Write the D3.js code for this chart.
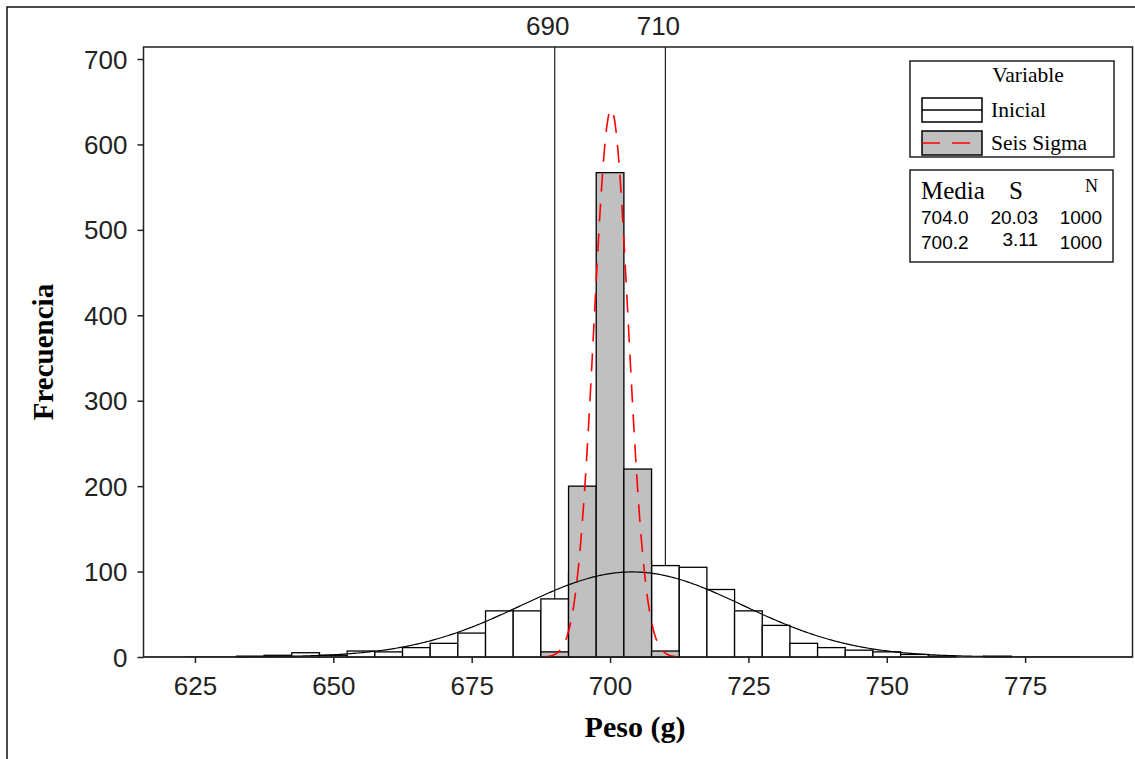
<!DOCTYPE html>
<html>
<head>
<meta charset="utf-8">
<script src="https://cdnjs.cloudflare.com/ajax/libs/d3/7.8.5/d3.min.js"></script>
<style>
  body { margin: 0; background: #fff; }
  svg { display: block; }
  .tick-label { font-family: "Liberation Sans", Arial, sans-serif; font-size: 26px; fill: #222; }
  .serif { font-family: "Liberation Serif", "Times New Roman", serif; fill: #000; }
  .stat { font-family: "Liberation Sans", Arial, sans-serif; font-size: 19px; fill: #000; }
</style>
</head>
<body>
<div id="chart"></div>
<script>
// bin centres (width 5 g)
const binCenters = [635, 640, 645, 650, 655, 660, 665, 670, 675, 680, 685, 690, 695, 700, 705, 710, 715, 720, 725, 730, 735, 740, 745, 750, 755, 760, 765, 770];
const inicialCounts = [1, 2, 5, 2, 7, 6, 11, 16, 28, 54, 54, 68, 98, 108, 112, 107, 105, 79, 54, 37, 16, 11, 8, 6, 3, 1, 0, 1];
const seisCenters = [690, 695, 700, 705, 710];
const seisCounts = [6, 200, 567, 220, 7];
const binWidth = 5;

// summary table
const seriesNames = ['Inicial', 'Seis Sigma'];
const medias = [704.0, 700.2];
const desvios = [20.03, 3.11];
const ns = [1000, 1000];
const mediaLabels = ['704.0', '700.2'];
const sLabels = ['20.03', '3.11'];

const xTicks = [625, 650, 675, 700, 725, 750, 775];
const yTicks = [0, 100, 200, 300, 400, 500, 600, 700];
const refLines = [690, 710];

const W = 1135, H = 759;
const plot = { left: 143.5, right: 1132.5, top: 47, bottom: 657 };

const svg = d3.select('#chart').append('svg')
  .attr('width', W)
  .attr('height', H);

svg.append('rect').attr('width', W).attr('height', H).attr('fill', '#fff');

// outer frame (right / bottom edges fall outside the picture)
svg.append('rect')
  .attr('x', 7).attr('y', 7)
  .attr('width', W + 20).attr('height', H + 20)
  .attr('fill', 'none').attr('stroke', '#111').attr('stroke-width', 1.5);

const x = d3.scaleLinear().domain([615.7, 794.4]).range([plot.left, plot.right]);
const y = d3.scaleLinear().domain([0, 700]).range([plot.bottom, 59]);

// reference lines
svg.selectAll('.ref')
  .data(refLines)
  .enter()
  .append('line')
  .attr('x1', d => x(d)).attr('x2', d => x(d))
  .attr('y1', plot.top).attr('y2', plot.bottom)
  .attr('stroke', '#222').attr('stroke-width', 1.2);

svg.selectAll('.ref-label')
  .data(refLines)
  .enter()
  .append('text')
  .attr('class', 'tick-label')
  .attr('x', d => x(d) - 7)
  .attr('y', 35)
  .attr('text-anchor', 'middle')
  .text(d => d);

// histograms
const inicial = binCenters.map((c, i) => ({ c: c, v: inicialCounts[i] })).filter(d => d.v > 0);
const seis = seisCenters.map((c, i) => ({ c: c, v: seisCounts[i] }));

function drawBars(data, fill) {
  svg.append('g').selectAll('rect')
    .data(data)
    .enter()
    .append('rect')
    .attr('x', d => x(d.c - binWidth / 2))
    .attr('y', d => y(d.v))
    .attr('width', d => x(d.c + binWidth / 2) - x(d.c - binWidth / 2))
    .attr('height', d => y(0) - y(d.v))
    .attr('fill', fill)
    .attr('stroke', '#000')
    .attr('stroke-width', 1.3);
}
drawBars(inicial, '#fff');
drawBars(seis, '#c0c0c0');

// fitted normal curves
function normalCurve(mu, sd, n) {
  const pts = [];
  const [a, b] = x.domain();
  for (let i = 0; i <= 600; i++) {
    const v = a + (b - a) * i / 600;
    const z = (v - mu) / sd;
    pts.push([v, n * binWidth * Math.exp(-0.5 * z * z) / (sd * Math.sqrt(2 * Math.PI))]);
  }
  return pts;
}

const line = d3.line()
  .x(d => x(d[0]))
  .y(d => y(d[1]));

svg.append('path')
  .datum(normalCurve(medias[0], desvios[0], ns[0]))
  .attr('fill', 'none')
  .attr('stroke', '#000')
  .attr('stroke-width', 1.2)
  .attr('d', line);

svg.append('path')
  .datum(normalCurve(medias[1], desvios[1], ns[1]).filter(d => d[1] > 0.3))
  .attr('fill', 'none')
  .attr('stroke', '#ff0000')
  .attr('stroke-width', 1.6)
  .attr('stroke-dasharray', '18,12')
  .attr('d', line);

// plot frame
svg.append('rect')
  .attr('x', plot.left).attr('y', plot.top)
  .attr('width', plot.right - plot.left).attr('height', plot.bottom - plot.top)
  .attr('fill', 'none').attr('stroke', '#222').attr('stroke-width', 1.5);

// axes
const xAxis = d3.axisBottom(x).tickValues(xTicks).tickSize(6).tickPadding(9);
const yAxis = d3.axisLeft(y).tickValues(yTicks).tickSize(6).tickPadding(10);

const gx = svg.append('g')
  .attr('transform', `translate(0,${plot.bottom})`)
  .call(xAxis);
const gy = svg.append('g')
  .attr('transform', `translate(${plot.left},0)`)
  .call(yAxis);

[gx, gy].forEach(g => {
  g.select('.domain').remove();
  g.selectAll('line').attr('stroke', '#222').attr('stroke-width', 1.5);
  g.selectAll('text').attr('class', 'tick-label').attr('fill', null).style('font-size', null);
});
gx.selectAll('text').attr('dy', null).attr('y', 38);
gy.selectAll('text').attr('x', -16).attr('dy', '0.35em');

// axis titles
svg.append('text')
  .attr('class', 'serif')
  .attr('x', 635).attr('y', 737)
  .attr('text-anchor', 'middle')
  .attr('font-weight', 'bold')
  .attr('font-size', 30)
  .text('Peso (g)');

svg.append('text')
  .attr('class', 'serif')
  .attr('transform', 'translate(53,352) rotate(-90)')
  .attr('text-anchor', 'middle')
  .attr('font-weight', 'bold')
  .attr('font-size', 29)
  .text('Frecuencia');

// legend
const lg = svg.append('g');
lg.append('rect')
  .attr('x', 910).attr('y', 61).attr('width', 204).attr('height', 96)
  .attr('fill', '#fff').attr('stroke', '#222').attr('stroke-width', 1.5);
lg.append('text').attr('class', 'serif')
  .attr('x', 1028).attr('y', 82).attr('text-anchor', 'middle')
  .attr('font-size', 21.5).text('Variable');

const swatchFill = ['#fff', '#c0c0c0'];
const swatchStroke = ['#000', '#ff0000'];
const swatchDash = [null, '18,12'];
seriesNames.forEach((name, i) => {
  const top = 98 + i * 33;
  lg.append('rect')
    .attr('x', 922).attr('y', top).attr('width', 60).attr('height', 24)
    .attr('fill', swatchFill[i]).attr('stroke', '#000').attr('stroke-width', 1.5);
  lg.append('line')
    .attr('x1', 922).attr('x2', 982).attr('y1', top + 12).attr('y2', top + 12)
    .attr('stroke', swatchStroke[i]).attr('stroke-width', 1.5)
    .attr('stroke-dasharray', swatchDash[i]);
  lg.append('text').attr('class', 'serif')
    .attr('x', 991).attr('y', top + 19)
    .attr('font-size', 21.5).text(name);
});

// summary table
const st = svg.append('g');
st.append('rect')
  .attr('x', 910).attr('y', 170).attr('width', 203).attr('height', 92)
  .attr('fill', '#fff').attr('stroke', '#222').attr('stroke-width', 1.5);
st.append('text').attr('class', 'serif').attr('font-size', 25)
  .attr('x', 921).attr('y', 199).text('Media');
st.append('text').attr('class', 'serif').attr('font-size', 25)
  .attr('x', 1009).attr('y', 199).text('S');
st.append('text').attr('class', 'serif').attr('font-size', 18)
  .attr('x', 1085).attr('y', 192).text('N');
seriesNames.forEach((name, i) => {
  const by = 224 + i * 25;
  st.append('text').attr('class', 'stat').attr('x', 921).attr('y', by).text(mediaLabels[i]);
  st.append('text').attr('class', 'stat').attr('x', 1038).attr('y', by - (i ? 3 : 0))
    .attr('text-anchor', 'end').text(sLabels[i]);
  st.append('text').attr('class', 'stat').attr('x', 1102).attr('y', by)
    .attr('text-anchor', 'end').text(ns[i]);
});
</script>
</body>
</html>
